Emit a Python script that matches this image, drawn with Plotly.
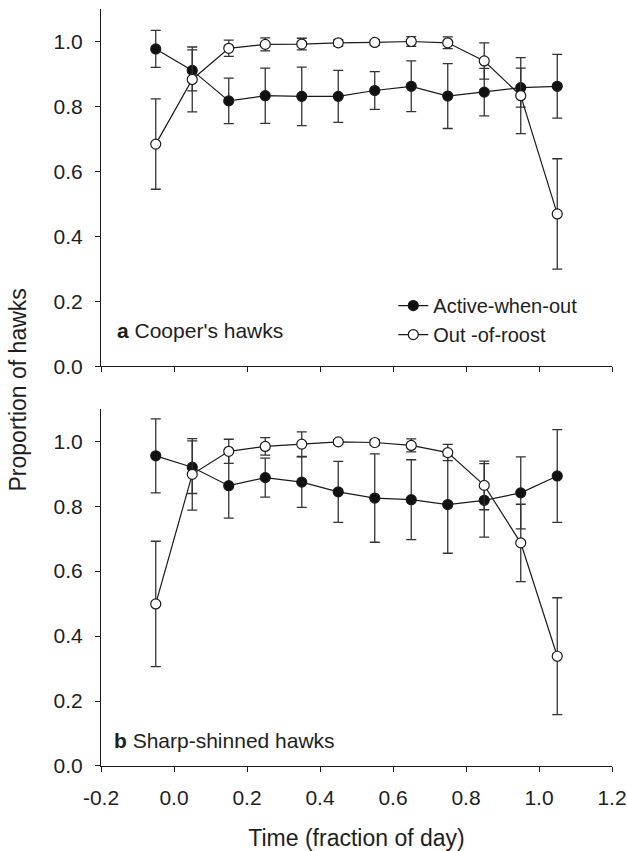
import plotly.graph_objects as go

# Time bins (fraction of day)
time = [-0.05, 0.05, 0.15, 0.25, 0.35, 0.45, 0.55, 0.65, 0.75, 0.85, 0.95, 1.05]

# Panel a: Cooper's hawks
a_active = [0.977, 0.911, 0.817, 0.833, 0.831, 0.831, 0.849, 0.862, 0.832, 0.844, 0.858, 0.862]
a_active_err = [0.057, 0.063, 0.070, 0.085, 0.090, 0.080, 0.058, 0.078, 0.100, 0.073, 0.060, 0.098]
a_out = [0.684, 0.883, 0.979, 0.991, 0.992, 0.996, 0.997, 1.000, 0.996, 0.940, 0.833, 0.469]
a_out_err = [0.139, 0.100, 0.025, 0.020, 0.018, 0.010, 0.008, 0.015, 0.018, 0.056, 0.117, 0.170]

# Panel b: Sharp-shinned hawks
b_active = [0.955, 0.920, 0.863, 0.888, 0.874, 0.844, 0.825, 0.820, 0.805, 0.818, 0.841, 0.893]
b_active_err = [0.114, 0.081, 0.100, 0.060, 0.078, 0.094, 0.136, 0.123, 0.150, 0.113, 0.111, 0.143]
b_out = [0.499, 0.898, 0.969, 0.984, 0.991, 0.998, 0.996, 0.987, 0.965, 0.864, 0.687, 0.338]
b_out_err = [0.193, 0.110, 0.037, 0.027, 0.038, 0.007, 0.008, 0.020, 0.025, 0.075, 0.119, 0.180]

x_ticks = [-0.2, 0.0, 0.2, 0.4, 0.6, 0.8, 1.0, 1.2]
x_tick_text = ["-0.2", "0.0", "0.2", "0.4", "0.6", "0.8", "1.0", "1.2"]
y_ticks = [0.0, 0.2, 0.4, 0.6, 0.8, 1.0]
y_tick_text = ["0.0", "0.2", "0.4", "0.6", "0.8", "1.0"]

FONT = "Liberation Sans, Arial, sans-serif"
LINE = "#1a1a1a"
ERR = "#333333"
TXT = "#1e1e1e"

fig = go.Figure()


def add_series(x, y, err, filled, xa, ya, name, show):
    fig.add_trace(go.Scatter(
        x=x, y=y, xaxis=xa, yaxis=ya, name=name, showlegend=show,
        mode="lines+markers",
        line=dict(color=LINE, width=1.2),
        marker=dict(size=10, color="#111111" if filled else "white",
                    line=dict(color=LINE, width=1.2), symbol="circle"),
        error_y=dict(type="data", array=err, visible=True, color=ERR,
                     thickness=1.3, width=5),
    ))


# Active drawn first so open markers sit on top
add_series(time, a_active, a_active_err, True, "x", "y", "Active-when-out", True)
add_series(time, a_out, a_out_err, False, "x", "y", "Out -of-roost", True)
add_series(time, b_active, b_active_err, True, "x2", "y2", "Active-when-out", False)
add_series(time, b_out, b_out_err, False, "x2", "y2", "Out -of-roost", False)

axis_common = dict(
    showgrid=False, zeroline=False, showline=True, linecolor=LINE, linewidth=1.2,
    ticks="outside", ticklen=5, tickwidth=1.2, tickcolor=LINE, automargin=False,
    tickfont=dict(family=FONT, size=21, color=TXT),
)

top_dom = [(766 - 366) / 757.5, 1.0]
bot_dom = [0.0, (766 - 408.5) / 757.5]

fig.update_layout(
    width=627, height=851,
    margin=dict(l=101, r=15, t=8.5, b=85),
    paper_bgcolor="white", plot_bgcolor="white",
    font=dict(family=FONT, color=TXT),
    xaxis=dict(axis_common, range=[-0.2, 1.2], tickvals=x_ticks, ticktext=x_tick_text,
               showticklabels=False, anchor="y", domain=[0, 1]),
    yaxis=dict(axis_common, range=[0, 1.1], tickvals=y_ticks, ticktext=y_tick_text,
               ticklabelstandoff=8, anchor="x", domain=top_dom),
    xaxis2=dict(axis_common, range=[-0.2, 1.2], tickvals=x_ticks, ticktext=x_tick_text,
                ticklabelstandoff=8, anchor="y2", domain=[0, 1],
                title=dict(text="Time (fraction of day)",
                           font=dict(family=FONT, size=23, color=TXT), standoff=23)),
    yaxis2=dict(axis_common, range=[0, 1.1], tickvals=y_ticks, ticktext=y_tick_text,
                ticklabelstandoff=8, anchor="x2", domain=bot_dom),
    legend=dict(
        x=0.572, y=0.634, xanchor="left", yanchor="top",
        font=dict(family=FONT, size=20, color=TXT),
        bgcolor="rgba(0,0,0,0)", tracegroupgap=0,
    ),
    annotations=[
        dict(text="<b>a</b> Cooper's hawks", xref="x", yref="y", x=-0.163, y=0.111,
             xanchor="left", yanchor="middle", showarrow=False,
             font=dict(family=FONT, size=21, color=TXT)),
        dict(text="<b>b</b> Sharp-shinned hawks", xref="x2", yref="y2", x=-0.17, y=0.08,
             xanchor="left", yanchor="middle", showarrow=False,
             font=dict(family=FONT, size=21, color=TXT)),
        dict(text="Proportion of hawks", xref="paper", yref="paper",
             x=-0.162, y=(766 - 390) / 757.5, xanchor="center", yanchor="middle",
             textangle=-90, showarrow=False,
             font=dict(family=FONT, size=23, color=TXT)),
    ],
)

fig.write_html("out.html")
